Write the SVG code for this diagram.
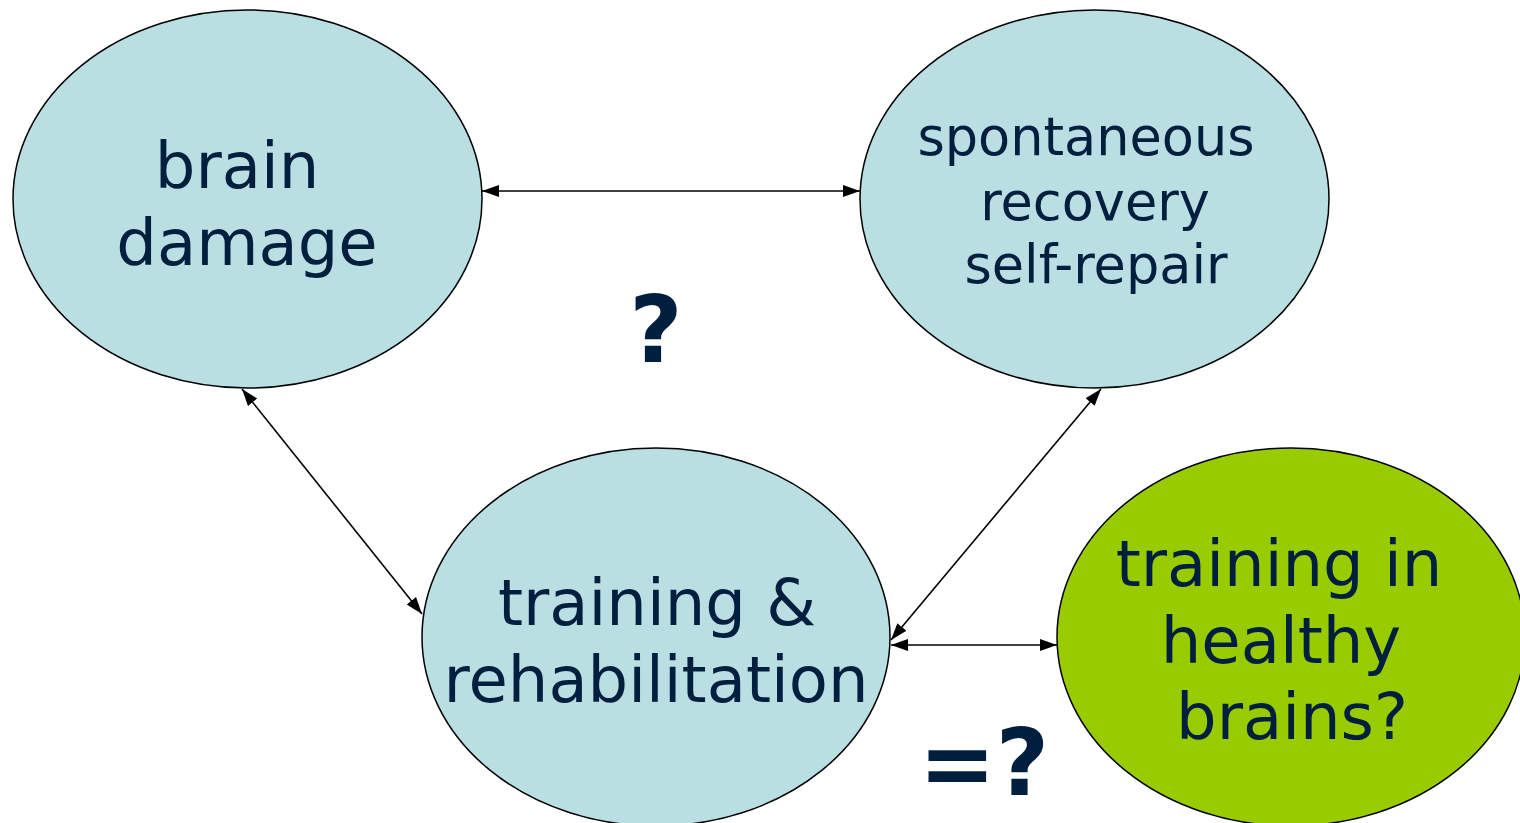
<svg xmlns="http://www.w3.org/2000/svg" width="1520" height="823" viewBox="0 0 1520 823">
<defs>
<marker id="ah" viewBox="0 0 10 10" refX="10" refY="5" markerWidth="17" markerHeight="17" markerUnits="userSpaceOnUse" orient="auto-start-reverse">
<path d="M0,1.5 L10,5 L0,8.5 Z" fill="#000"/>
</marker>
<style>
.node{stroke:#000;stroke-width:1.5}
.blue{fill:#B9DFE2}
.green{fill:#99CC00}
.lbl{font-family:"DejaVu Sans",Verdana,sans-serif;fill:#001F3F;text-anchor:middle}
.big{font-size:64px}
.mid{font-size:52.5px}
.q{font-family:"DejaVu Sans",Verdana,sans-serif;font-weight:bold;font-size:92px;fill:#001F3F;text-anchor:middle}
.con{stroke:#000;stroke-width:1.6;fill:none;marker-start:url(#ah);marker-end:url(#ah)}
</style>
</defs>
<rect width="1520" height="823" fill="#fff"/>
<g id="connectors">
<line class="con" x1="482" y1="191" x2="860" y2="191"/>
<line class="con" x1="242" y1="389" x2="422" y2="614"/>
<line class="con" x1="1101" y1="389" x2="891" y2="640"/>
<line class="con" x1="891" y1="645" x2="1057" y2="645"/>
</g>
<g id="brain-damage">
<ellipse class="node blue" cx="247.5" cy="199" rx="234.5" ry="189"/>
<text class="lbl big" x="237" y="188">brain</text>
<text class="lbl big" x="247" y="265">damage</text>
</g>
<g id="spontaneous-recovery">
<ellipse class="node blue" cx="1094.5" cy="199" rx="234.5" ry="189"/>
<text class="lbl mid" x="1086" y="155">spontaneous</text>
<text class="lbl mid" x="1095" y="220">recovery</text>
<text class="lbl mid" x="1096" y="283">self-repair</text>
</g>
<g id="training-rehabilitation">
<ellipse class="node blue" cx="656" cy="637" rx="234" ry="189"/>
<text class="lbl big" x="657" y="625">training &amp;</text>
<text class="lbl big" x="656" y="702">rehabilitation</text>
</g>
<g id="training-healthy">
<ellipse class="node green" cx="1291" cy="637" rx="234" ry="189"/>
<text class="lbl big" x="1279" y="586">training in</text>
<text class="lbl big" x="1281" y="663">healthy</text>
<text class="lbl big" x="1292" y="739">brains?</text>
</g>
<g id="question-top">
<text class="q" x="656" y="362">?</text>
</g>
<g id="question-equal">
<text class="q" x="984" y="795">=?</text>
</g>
</svg>
